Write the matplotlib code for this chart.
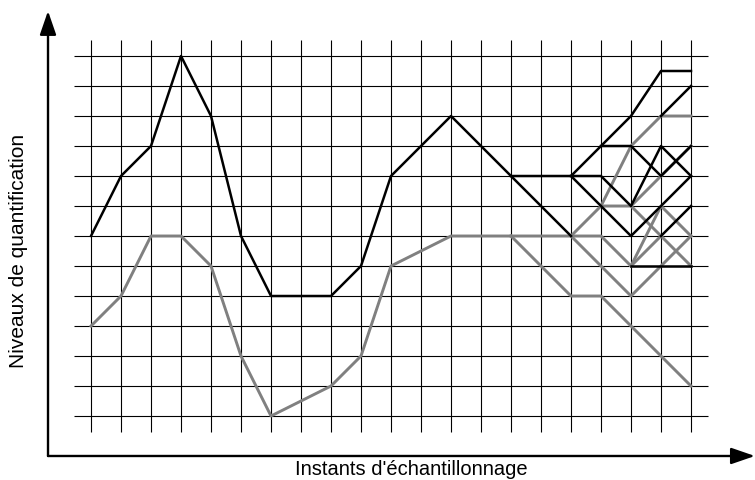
import matplotlib
matplotlib.use("Agg")
import matplotlib.pyplot as plt

plt.rcParams["font.family"] = ["Liberation Sans", "DejaVu Sans"]

# grille : 21 instants, 13 niveaux
N_STEPS = 21
N_LEVELS = 13

# trajectoires principales (un niveau par instant, à partir de t=0)
black_main = [6, 8, 9, 12, 10, 6, 4, 4, 4, 5, 8, 9, 10, 9, 8]
gray_main = [3, 4, 6, 6, 5, 2, 0, 0.5, 1, 2, 5, 5.5, 6, 6, 6]

# branches de fin : (instant de départ, niveaux successifs)
black_branches = [
    (14, [8, 8, 8, 9, 10, 11.5, 11.5]),
    (14, [8, 7, 6]),
    (16, [8, 7, 6, 7, 8]),
    (16, [8, 8, 7, 9, 8]),
    (17, [9, 9, 8, 9]),
    (19, [10, 11]),
    (19, [6, 7]),
    (18, [5, 5, 5]),
]
gray_branches = [
    (14, [6, 6, 6, 6, 5]),
    (14, [6, 5, 4, 4, 3, 2, 1]),
    (16, [6, 7, 9, 10, 10]),
    (17, [7, 7, 8, 9]),
    (16, [6, 5, 4, 5, 6]),
    (18, [5, 7, 6]),
    (18, [5, 6, 5]),
    (18, [7, 6]),
]

BLACK = "#000000"
GRAY = "#808080"

fig = plt.figure(figsize=(7.55, 4.81), dpi=100)
ax = fig.add_axes([0, 0, 1, 1])
ax.set_xlim(-91 / 30, 664 / 30)
ax.set_ylim(-64 / 30, 417 / 30)
ax.axis("off")

# grille
ax.vlines(range(N_STEPS), -0.53, N_LEVELS - 1 + 0.53, color="black", lw=0.8, zorder=1)
ax.hlines(range(N_LEVELS), -0.57, N_STEPS - 1 + 0.57, color="black", lw=0.8, zorder=1)

# courbes grises puis noires
ax.plot(range(len(gray_main)), gray_main, color=GRAY, lw=2.1, zorder=2)
for start, levels in gray_branches:
    ax.plot(range(start, start + len(levels)), levels, color=GRAY, lw=2.1, zorder=2)

ax.plot(range(len(black_main)), black_main, color=BLACK, lw=1.8, zorder=3)
for start, levels in black_branches:
    ax.plot(range(start, start + len(levels)), levels, color=BLACK, lw=1.8, zorder=3)

# axes fléchés
x0, y0 = -1.433, -1.333
arrow = dict(arrowstyle="-|>,head_length=1.45,head_width=0.5", lw=1.7,
             color="black", shrinkA=0, shrinkB=0, mutation_scale=10)
ax.annotate("", xy=(x0, 13.5), xytext=(x0, y0), arrowprops=arrow)
ax.annotate("", xy=(22.13, y0), xytext=(x0, y0), arrowprops=arrow)

ax.text(10.67, -1.75, "Instants d'échantillonnage", ha="center", va="center", fontsize=14.5)
ax.text(-2.43, 5.55, "Niveaux de quantification", ha="center", va="center",
        rotation=90, fontsize=15)

fig.savefig("out.png", dpi=100, facecolor="white")
